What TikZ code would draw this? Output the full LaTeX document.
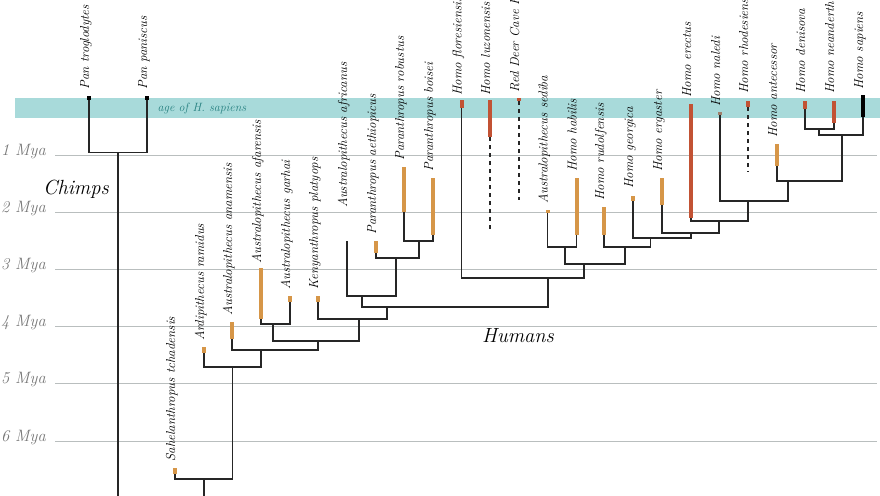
\documentclass[tikz,border=0pt]{standalone}
\usetikzlibrary{positioning,calc}
\definecolor{ochre}{RGB}{214,150,72}
\definecolor{rust}{RGB}{194,82,52}
\definecolor{dusty}{RGB}{160,128,108}
\definecolor{band}{RGB}{168,218,218}
\definecolor{bandtext}{RGB}{38,128,128}
\definecolor{gridgray}{RGB}{185,190,190}
\definecolor{myagray}{RGB}{120,120,120}
\begin{document}
\begin{tikzpicture}[x=1pt,y=-1pt,
	bar/.style={rectangle,inner sep=0pt,minimum width=3.6pt,draw=none},
	lbl/.style={rotate=90,anchor=base west,inner sep=0pt,font=\fontsize{13}{15}\selectfont\itshape},
	branch/.style={draw=black!85,line width=1.2pt},
	ghost/.style={draw=black!85,line width=1.2pt,dash pattern=on 4pt off 4pt},
	mya/.style={anchor=base east,inner sep=0pt,text=myagray,font=\fontsize{16.5}{18}\selectfont\itshape},
	big/.style={inner sep=0pt,font=\fontsize{20.5}{23}\selectfont\itshape}]
	\useasboundingbox[fill=white] (0,0) rectangle (880,495);
	% band and time scale
	\fill[band] (15,98) rectangle (880,118);
	\node (BandText) [text=bandtext,font=\fontsize{12}{14}\selectfont\itshape] at (202,108) {age of H.\ sapiens};
	\draw[gridgray,line width=0.9pt] (55,155) -- (877,155) (55,212.2) -- (877,212.2) (55,269.4) -- (877,269.4)
		(55,326.6) -- (877,326.6) (55,383.8) -- (877,383.8) (55,441) -- (877,441);
	\node (Mya1) [mya] at (46,155) {1 Mya};
	\node (Mya2) [mya] at (46,212.2) {2 Mya};
	\node (Mya3) [mya] at (46,269.4) {3 Mya};
	\node (Mya4) [mya] at (46,326.6) {4 Mya};
	\node (Mya5) [mya] at (46,383.8) {5 Mya};
	\node (Mya6) [mya] at (46,441) {6 Mya};
	\node (Chimps) [big] at (76,189) {Chimps};
	\node (Humans) [big] at (518,336) {Humans};
	% chimps
	\node (PanTro) [bar,fill=black,minimum width=4pt,minimum height=4pt] at (89,98) {};
	\node (PanPan) [bar,fill=black,minimum width=4pt,minimum height=4pt] at (147,98) {};
	\node (PanTroL) [lbl] at ([yshift=6pt]PanTro.north) {Pan troglodytes};
	\node (PanPanL) [lbl] at ([yshift=6pt]PanPan.north) {Pan paniscus};
	\coordinate (PanJ) at (118,152.5);
	\coordinate (ChimpEnd) at (118,500);
	\draw[branch] (PanTro.south) |- (PanJ) -| (PanPan.south);
	\draw[branch] (PanJ) -- (ChimpEnd);
	% early hominins
	\node (Sahel) [bar,fill=ochre,minimum height=6pt] at (175,471) {};
	\node (Ardi) [bar,fill=ochre,minimum height=6pt] at (204,350) {};
	\node (Anam) [bar,fill=ochre,minimum height=17pt] at (232,330.5) {};
	\node (Afar) [bar,fill=ochre,minimum height=51pt] at (261,293.5) {};
	\node (Garh) [bar,fill=ochre,minimum height=6pt] at (290,299) {};
	\node (Keny) [bar,fill=ochre,minimum height=6pt] at (318,299) {};
	\coordinate (Afric) at (347,241);
	\node (Aeth) [bar,fill=ochre,minimum height=12pt] at (376,247) {};
	\node (Robu) [bar,fill=ochre,minimum height=45pt] at (404,189.5) {};
	\node (Bois) [bar,fill=ochre,minimum height=57pt] at (433,206.5) {};
	\node (SahelL) [lbl] at ([yshift=6pt]Sahel.north) {Sahelanthropus tchadensis};
	\node (ArdiL) [lbl] at ([yshift=6pt]Ardi.north) {Ardipithecus ramidus};
	\node (AnamL) [lbl] at ([yshift=6pt]Anam.north) {Australopithecus anamensis};
	\node (AfarL) [lbl] at ([yshift=4pt]Afar.north) {Australopithecus afarensis};
	\node (GarhL) [lbl] at ([yshift=6pt]Garh.north) {Australopithecus garhai};
	\node (KenyL) [lbl] at ([yshift=6pt]Keny.north) {Kenyanthropus platyops};
	\node (AfricL) [lbl] at (347,208) {Australopithecus africanus};
	\node (AethL) [lbl] at ([yshift=6pt]Aeth.north) {Paranthropus aethiopicus};
	\node (RobuL) [lbl] at ([yshift=6pt]Robu.north) {Paranthropus robustus};
	\node (BoisL) [lbl] at ([yshift=6pt]Bois.north) {Paranthropus boisei};
	% homo
	\node (Flor) [bar,fill=rust,minimum height=8pt] at (461.7,104) {};
	\node (Luzo) [bar,fill=rust,minimum width=4pt,minimum height=37pt] at (490,118.5) {};
	\node (RedDeer) [bar,fill=rust,minimum height=3pt] at (519,99.5) {};
	\node (Sedi) [bar,fill=ochre,minimum height=3pt] at (547.7,211.5) {};
	\node (Habi) [bar,fill=ochre,minimum height=57pt] at (576.7,206.5) {};
	\node (Rudo) [bar,fill=ochre,minimum height=28pt] at (604,221) {};
	\node (Geor) [bar,fill=ochre,minimum height=5pt] at (633,198.5) {};
	\node (Erga) [bar,fill=ochre,minimum height=27pt] at (662,191.5) {};
	\node (Erec) [bar,fill=rust,minimum width=4.5pt,minimum height=114pt] at (691,161) {};
	\node (Nale) [bar,fill=dusty,minimum height=3pt] at (720,113.5) {};
	\node (Rhod) [bar,fill=rust,minimum height=6pt] at (748,104) {};
	\node (Ante) [bar,fill=ochre,minimum width=4pt,minimum height=22pt] at (777,155) {};
	\node (Deni) [bar,fill=rust,minimum height=8pt] at (805,105) {};
	\node (Nean) [bar,fill=rust,minimum height=22pt] at (834,112) {};
	\node (Sapi) [bar,fill=black,minimum width=4pt,minimum height=22pt] at (863,106) {};
	\node (FlorL) [lbl] at ([yshift=4pt]Flor.north) {Homo floresiensis};
	\node (LuzoL) [lbl] at ([yshift=4pt]Luzo.north) {Homo luzonensis};
	\node (RedDeerL) [lbl] at ([yshift=5pt]RedDeer.north) {Red Deer Cave People};
	\node (SediL) [lbl] at ([yshift=6pt]Sedi.north) {Australopithecus sediba};
	\node (HabiL) [lbl] at ([yshift=6pt]Habi.north) {Homo habilis};
	\node (RudoL) [lbl] at ([yshift=6pt]Rudo.north) {Homo rudolfensis};
	\node (GeorL) [lbl] at ([yshift=7pt]Geor.north) {Homo georgica};
	\node (ErgaL) [lbl] at ([yshift=6pt]Erga.north) {Homo ergaster};
	\node (ErecL) [lbl] at ([yshift=6pt]Erec.north) {Homo erectus};
	\node (NaleL) [lbl] at ([yshift=5pt]Nale.north) {Homo naledi};
	\node (RhodL) [lbl] at ([yshift=7pt]Rhod.north) {Homo rhodesiensis};
	\node (AnteL) [lbl] at ([yshift=6pt]Ante.north) {Homo antecessor};
	\node (DeniL) [lbl] at ([yshift=7pt]Deni.north) {Homo denisova};
	\node (NeanL) [lbl] at ([yshift=7pt]Nean.north) {Homo neanderthalensis};
	\node (SapiL) [lbl] at ([yshift=5pt]Sapi.north) {Homo sapiens};
	% junctions
	\coordinate (HumRoot) at (204,479);
	\coordinate (HumEnd) at (204,500);
	\coordinate (J2) at (232.7,367);
	\coordinate (J3) at (261,350);
	\coordinate (J4) at (318,341);
	\coordinate (AfGaJ) at (273,324);
	\coordinate (J5) at (359,319);
	\coordinate (J6) at (387,307);
	\coordinate (AfParJ) at (362,296);
	\coordinate (ParJ) at (396,258);
	\coordinate (RoBoJ) at (419,241);
	\coordinate (HomoJ) at (548,278);
	\coordinate (H1) at (584,264);
	\coordinate (SeHaJ) at (565,247);
	\coordinate (H2) at (625,247);
	\coordinate (H3) at (650.7,238);
	\coordinate (H4) at (691,233);
	\coordinate (H5) at (719,221);
	\coordinate (H6) at (748,201);
	\coordinate (H7) at (788,181);
	\coordinate (H8) at (842,135);
	\coordinate (DeNeJ) at (819,129);
	\coordinate (LuzoEnd) at (490,229);
	\coordinate (RedDeerEnd) at (519,200);
	\coordinate (RhodEnd) at (748,172);
	% branches
	\draw[branch] (Sahel.south) |- (HumRoot) -| (J2);
	\draw[branch] (HumRoot) -- (HumEnd);
	\draw[branch] (Ardi.south) |- (J2) -| (J3);
	\draw[branch] (Anam.south) |- (J3) -| (J4);
	\draw[branch] (AfGaJ) |- (J4) -| (J5);
	\draw[branch] (Afar.south) |- (AfGaJ) -| (Garh.south);
	\draw[branch] (Keny.south) |- (J5) -| (J6);
	\draw[branch] (AfParJ) |- (J6) -| (HomoJ);
	\draw[branch] (Afric) |- (AfParJ) -| (ParJ);
	\draw[branch] (Aeth.south) |- (ParJ) -| (RoBoJ);
	\draw[branch] (Robu.south) |- (RoBoJ) -| (Bois.south);
	\draw[branch] (Flor.south) |- (HomoJ) -| (H1);
	\draw[branch] (SeHaJ) |- (H1) -| (H2);
	\draw[branch] (Sedi.south) |- (SeHaJ) -| (Habi.south);
	\draw[branch] (Rudo.south) |- (H2) -| (H3);
	\draw[branch] (Geor.south) |- (H3) -| (H4);
	\draw[branch] (Erga.south) |- (H4) -| (H5);
	\draw[branch] (Erec.south) |- (H5) -| (H6);
	\draw[branch] (Nale.south) |- (H6) -| (H7);
	\draw[branch] (Ante.south) |- (H7) -| (H8);
	\draw[branch] (DeNeJ) |- (H8) -| (Sapi.south);
	\draw[branch] (Deni.south) |- (DeNeJ) -| (Nean.south);
	\draw[ghost] (Luzo.south) -- (LuzoEnd);
	\draw[ghost] (RedDeer.south) -- (RedDeerEnd);
	\draw[ghost] (Rhod.south) -- (RhodEnd);
\end{tikzpicture}
\end{document}
